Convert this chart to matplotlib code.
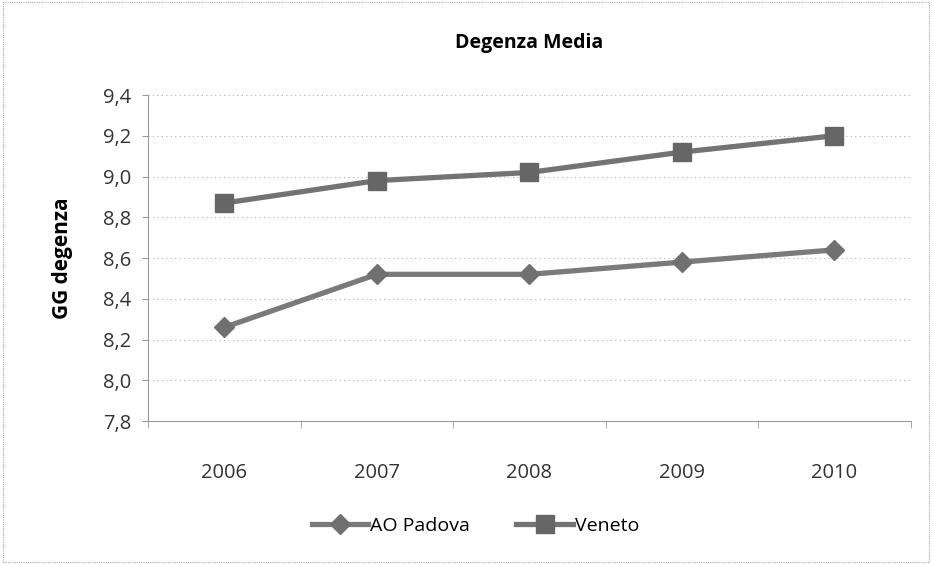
import matplotlib
matplotlib.use("Agg")
import matplotlib.pyplot as plt
from matplotlib.patches import Rectangle

years = ["2006", "2007", "2008", "2009", "2010"]
ao_padova = [8.26, 8.52, 8.52, 8.58, 8.64]
veneto = [8.87, 8.98, 9.02, 9.12, 9.20]
yticks = [7.8, 8.0, 8.2, 8.4, 8.6, 8.8, 9.0, 9.2, 9.4]
ytick_labels = ["7,8", "8,0", "8,2", "8,4", "8,6", "8,8", "9,0", "9,2", "9,4"]

plt.rcParams['font.family'] = ['Open Sans', 'DejaVu Sans']

fig = plt.figure(figsize=(9.32, 5.64), dpi=100)
ax = fig.add_axes([0.159, 0.2535, 0.818, 0.578])

x = list(range(len(years)))
ax.plot(x, ao_padova, color='#7a7a7a', lw=3.8, marker='D', markersize=10,
        markerfacecolor='#707070', markeredgecolor='#707070', label='AO Padova', zorder=3)
ax.plot(x, veneto, color='#737373', lw=3.8, marker='s', markersize=12.5,
        markerfacecolor='#666666', markeredgecolor='#666666', label='Veneto', zorder=3)

ax.set_xlim(-0.5, len(years) - 0.5)
ax.set_ylim(7.8, 9.4)
ax.set_yticks(yticks)
ax.set_yticklabels(ytick_labels)
ax.set_xticks(x)
ax.set_xticklabels(years)
ax.set_xticks([i - 0.5 for i in range(len(years) + 1)], minor=True)
ax.tick_params(axis='x', which='major', length=0, pad=30, labelsize=14.5, colors='#333333')
ax.tick_params(axis='x', which='minor', length=5, color='#999999', direction='out')
ax.tick_params(axis='y', length=4, color='#999999', labelsize=14.5, colors='#333333', pad=8)
ax.yaxis.grid(True, linestyle=(0, (1, 3)), color='#b0b0b0', lw=0.8)
for s in ['top', 'right']:
    ax.spines[s].set_visible(False)
ax.spines['left'].set_color('#999999')
ax.spines['bottom'].set_color('#999999')

ax.set_ylabel('GG degenza', fontsize=15, fontweight='bold', labelpad=22)
ax.set_title('Degenza Media', fontsize=14, fontweight='bold', pad=34)

fig.legend(loc='center', bbox_to_anchor=(0.51, 0.068), ncol=2, frameon=False,
           fontsize=14, handlelength=2.9, columnspacing=2.4, handletextpad=0.1)

fig.patches.append(Rectangle((0.003, 0.003), 0.994, 0.994, transform=fig.transFigure,
                             fill=False, edgecolor='#aaaaaa', lw=0.8, linestyle=(0, (1, 1))))

fig.savefig('out.png', dpi=100)
